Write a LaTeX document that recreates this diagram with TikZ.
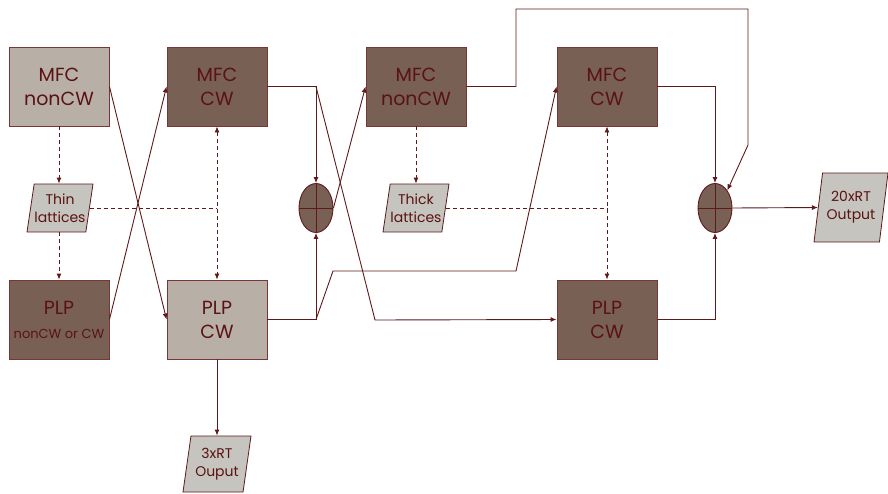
\documentclass[tikz,border=0pt]{standalone}
\usepackage{fontspec}
\setmainfont{Poppins}
\usetikzlibrary{shapes.geometric,arrows.meta}
\definecolor{wire}{HTML}{5E1A1A}
\definecolor{ink}{HTML}{5A1212}
\definecolor{edge}{HTML}{7A3535}
\definecolor{darkbox}{HTML}{786054}
\definecolor{lightbox}{HTML}{B8AFA6}
\definecolor{lattice}{HTML}{C6C4BE}

\begin{document}
\begin{tikzpicture}[x=1pt,y=-1pt,
    blk/.style={draw=edge,line width=0.9pt,minimum width=100pt,minimum height=79pt,
      align=center,text=ink,font=\fontsize{19}{24}\selectfont},
    dk/.style={blk,fill=darkbox},
    lt/.style={blk,fill=lightbox},
    lat/.style={draw=wire,line width=0.8pt,fill=lattice,trapezium,
      trapezium left angle=76,trapezium right angle=104,trapezium stretches body,
      minimum width=66pt,minimum height=48pt,inner sep=0pt,align=center,text=ink,
      font=\fontsize{14}{18}\selectfont},
    sum/.style={draw=wire,line width=0.9pt,fill=darkbox,ellipse,minimum width=34pt,
      minimum height=49pt,inner sep=0pt},
    arw/.style={draw=wire,line width=0.9pt,-{Latex[length=6pt,width=5pt]}},
    ln/.style={draw=wire,line width=0.9pt},
    darw/.style={arw,dashed,dash pattern=on 4pt off 3pt}]
  \useasboundingbox (0,0) rectangle (888,493);
  % top row
  \node[lt] (mfcA) at (59,86.5) {MFC\\nonCW};
  \node[dk] (mfcB) at (217,86.5) {MFC\\CW};
  \node[dk] (mfcC) at (416,86.5) {MFC\\nonCW};
  \node[dk] (mfcD) at (607,86.5) {MFC\\CW};
  % bottom row
  \node[dk] (plpA) at (59,319.5) {PLP\\{\fontsize{13}{16}\selectfont nonCW or CW}};
  \node[lt] (plpB) at (217,319.5) {PLP\\CW};
  \node[dk] (plpD) at (607,319.5) {PLP\\CW};
  % lattices and outputs
  \node[lat] (thin) at (60,208) {Thin\\lattices};
  \node[lat] (thick) at (416,208) {Thick\\lattices};
  \node[lat,minimum width=74pt,minimum height=69pt,trapezium left angle=75,
    trapezium right angle=105] (outB) at (851,207.5) {20xRT\\Output};
  \node[lat,minimum width=68pt,minimum height=56pt] (outA) at (217,464) {3xRT\\Ouput};
  % adders
  \node[sum] (sumA) at (316,208) {};
  \node[sum] (sumB) at (715,208) {};
  \foreach \s in {sumA,sumB} {
    \draw[ln] (\s.north) -- (\s.south);
    \draw[ln] (\s.west) -- (\s.east);
  }
  % bends
  \coordinate (bA) at (375,320);
  \coordinate (bB) at (333,271);
  \coordinate (bC) at (516,271);
  \coordinate (bD) at (516,9);
  \coordinate (bE) at (748,9);
  \coordinate (bF) at (748,145);
  % crossing links
  \draw[arw] (mfcA.east) -- (plpB.west);
  \draw[arw] (plpA.east) -- (mfcB.west);
  \draw[arw] (mfcB.east) -| (sumA.north);
  \draw[arw] (mfcB.east -| sumA.north) -- (bA) -- (plpD.west);
  \draw[arw] (plpB.east) -| (sumA.south);
  \draw[arw] (plpB.east -| sumA.south) -- (bB) -- (bC) -- (mfcD.west);
  \draw[arw] (sumA.east) -- (mfcC.west);
  \draw[arw] (mfcC.east) -| (bD) -- (bE) -- (bF) -- (sumB.north east);
  \draw[arw] (mfcD.east) -| (sumB.north);
  \draw[arw] (plpD.east) -| (sumB.south);
  \draw[arw] (sumB.east) -- (outB.west);
  \draw[arw] (plpB.south) -- (plpB.south |- outA.north);
  % lattice links
  \draw[darw] (mfcA.south) -- (mfcA.south |- thin.north);
  \draw[darw] (thin.south -| plpA.north) -- (plpA.north);
  \draw[ln,dashed,dash pattern=on 4pt off 3pt] (thin.east) -- (thin.east -| mfcB.south);
  \draw[darw,{Latex[length=6pt,width=5pt]}-{Latex[length=6pt,width=5pt]}] (mfcB.south) -- (plpB.north);
  \draw[darw] (mfcC.south) -- (mfcC.south |- thick.north);
  \draw[ln,dashed,dash pattern=on 4pt off 3pt] (thick.east) -- (thick.east -| mfcD.south);
  \draw[darw,{Latex[length=6pt,width=5pt]}-{Latex[length=6pt,width=5pt]}] (mfcD.south) -- (plpD.north);
\end{tikzpicture}
\end{document}
